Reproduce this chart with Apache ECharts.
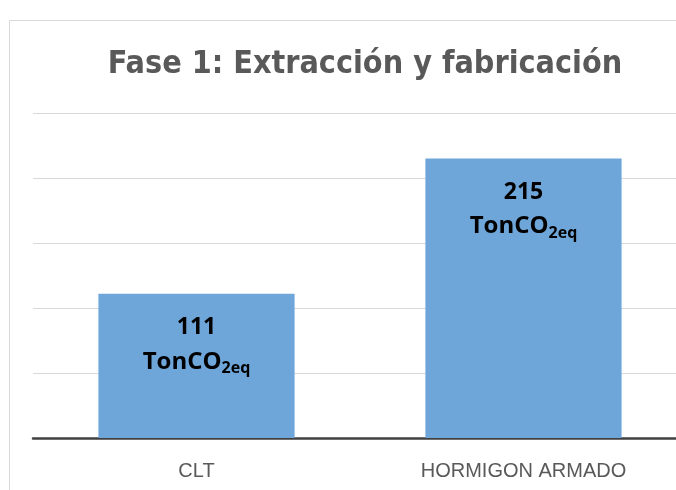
<!DOCTYPE html>
<html><head><meta charset="utf-8">
<script src="https://cdn.jsdelivr.net/npm/echarts@6/dist/echarts.min.js"></script>
<style>html,body{margin:0;padding:0;background:#fff}#c{width:676px;height:490px}</style>
</head><body><div id="c"></div>
<script>
const titleText = 'Fase 1: Extracción y fabricación';
const categories = ['CLT', 'HORMIGON ARMADO'];
const values = [111, 215];
const unitMain = 'TonCO';
const unitSub = '2eq';

const chart = echarts.init(document.getElementById('c'));
chart.setOption({
  backgroundColor: '#fff',
  animation: false,
  title: {
    text: titleText, left: 360, top: 44, textAlign: 'center',
    textStyle: { fontFamily: '"DejaVu Sans Condensed", "Open Sans"', fontSize: 32, fontWeight: 'bold', color: '#595959' }
  },
  graphic: [
    { type: 'polyline', shape: { points: [[9.5, 490], [9.5, 20.5], [676, 20.5]] }, style: { stroke: '#d9d9d9', fill: null, lineWidth: 1 } }
  ],
  grid: { left: 33, right: -11, top: 113, bottom: 52, outerBoundsMode: 'none', containLabel: false },
  xAxis: {
    type: 'category', data: categories,
    axisLine: { lineStyle: { color: '#404040', width: 2.5 } },
    axisTick: { show: false },
    axisLabel: { color: '#595959', fontSize: 20, fontFamily: 'Liberation Sans', margin: 23 }
  },
  yAxis: {
    type: 'value', min: 0, max: 250, interval: 50,
    axisLabel: { show: false }, axisLine: { show: false }, axisTick: { show: false },
    splitLine: { lineStyle: { color: '#d9d9d9', width: 1 } }
  },
  series: [{
    type: 'bar', data: values, barWidth: '60%',
    itemStyle: { color: '#6fa6da' },
    label: {
      show: true, position: 'insideTop', distance: 16,
      formatter: p => '{v|' + p.value + '}\n{u|' + unitMain + '}{s|' + unitSub + '}',
      rich: {
        v: { fontFamily: 'Open Sans', fontWeight: 'bold', fontSize: 23, color: '#000', lineHeight: 36, align: 'center' },
        u: { fontFamily: 'Open Sans', fontWeight: 'bold', fontSize: 24, color: '#000', lineHeight: 32 },
        s: { fontFamily: 'Open Sans', fontWeight: 'bold', fontSize: 16, color: '#000', lineHeight: 32, padding: [14, 0, 0, 0] }
      }
    }
  }]
});
</script></body></html>
